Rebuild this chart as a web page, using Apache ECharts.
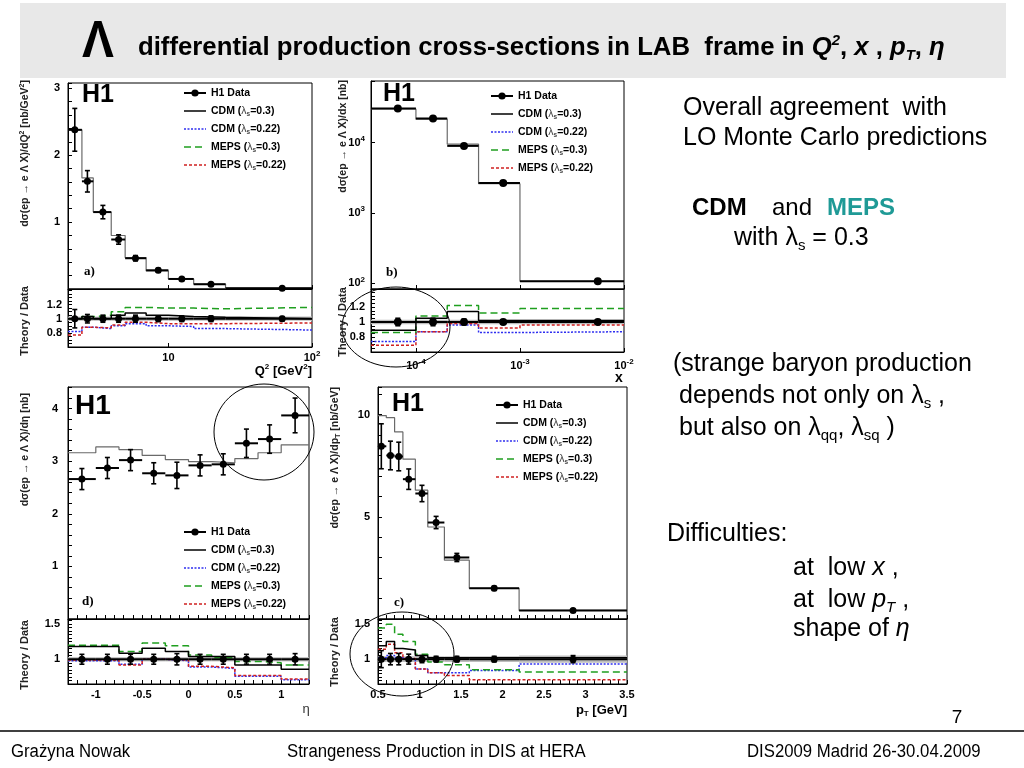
<!DOCTYPE html>
<html><head><meta charset="utf-8">
<script src="https://cdn.jsdelivr.net/npm/echarts@6/dist/echarts.min.js"></script>
<style>html,body{margin:0;padding:0;background:#fff}#c{width:1024px;height:768px}</style>
</head><body><div id="c"></div><script>
const FONT = '"Liberation Sans", Arial, Helvetica, sans-serif';
const SERIF = '"Liberation Serif", "Times New Roman", serif';

// ---------- Panel a: Q^2 ----------
const q2Edges = [2, 2.5, 3, 4, 5, 7, 10, 15, 25, 100];
const q2Centers = [2.23, 2.73, 3.5, 4.5, 5.9, 8.5, 12.4, 19.8, 62];
const q2Data = [2.38, 1.61, 1.15, 0.74, 0.46, 0.28, 0.15, 0.07, 0.012];
const q2Err = [0.32, 0.16, 0.1, 0.07, 0.04, 0.03, 0.02, 0.012, 0.004];
const q2Cdm = [2.38, 1.66, 1.15, 0.80, 0.47, 0.27, 0.15, 0.075, 0.012];
const q2RCdm03 = [1.0, 1.03, 1.0, 1.05, 1.08, 1.05, 1.03, 1.02, 1.0];
const q2RCdm022 = [0.82, 0.88, 0.86, 0.9, 0.93, 0.9, 0.89, 0.86, 0.84];
const q2RMeps03 = [1.0, 1.03, 1.05, 1.1, 1.16, 1.15, 1.15, 1.14, 1.16];
const q2RMeps022 = [0.77, 0.88, 0.87, 0.91, 0.95, 0.93, 0.93, 0.93, 0.94];
const q2RErr = [0.13, 0.06, 0.05, 0.05, 0.05, 0.04, 0.04, 0.04, 0.03];
const q2Band = [0.03, 0.03, 0.03, 0.03, 0.03, 0.03, 0.03, 0.03, 0.03];

// ---------- Panel b: x ----------
const xEdges = [3.7e-5, 1e-4, 2e-4, 4e-4, 1e-3, 1e-2];
const xCenters = [6.7e-5, 1.46e-4, 2.9e-4, 6.9e-4, 5.6e-3];
const xData = [30600, 21900, 8970, 2660, 107];
const xErr = [1500, 1000, 400, 120, 6];
const xCdm = [30000, 21500, 9500, 2600, 107];
const xRCdm03 = [0.89, 1.05, 1.14, 1.02, 1.02];
const xRCdm022 = [0.74, 0.87, 0.96, 0.86, 0.87];
const xRMeps03 = [0.86, 1.08, 1.22, 1.12, 1.18];
const xRMeps022 = [0.69, 0.87, 0.98, 0.92, 0.96];
const xRErr = [0.05, 0.05, 0.04, 0.03, 0.03];
const xBand = [0.03, 0.03, 0.03, 0.03, 0.03];

// ---------- Panel d: eta ----------
const etaEdges = [-1.3, -1.0, -0.75, -0.5, -0.25, 0, 0.25, 0.5, 0.75, 1.0, 1.3];
const etaCenters = [-1.15, -0.875, -0.625, -0.375, -0.125, 0.125, 0.375, 0.625, 0.875, 1.15];
const etaData = [2.66, 2.87, 3.02, 2.77, 2.73, 2.92, 2.94, 3.34, 3.42, 3.87];
const etaErr = [0.2, 0.2, 0.2, 0.2, 0.25, 0.2, 0.2, 0.27, 0.27, 0.33];
const etaCdm = [3.16, 3.27, 3.22, 3.11, 3.03, 2.99, 2.97, 3.05, 3.16, 3.31];
const etaRCdm03 = [1.18, 1.18, 1.085, 1.155, 1.11, 1.04, 1.04, 0.92, 0.92, 0.86];
const etaRCdm022 = [0.98, 0.98, 0.93, 1.0, 0.98, 0.89, 0.87, 0.76, 0.76, 0.71];
const etaRMeps03 = [1.2, 1.2, 1.11, 1.23, 1.19, 1.06, 1.02, 0.97, 0.95, 0.92];
const etaRMeps022 = [0.99, 0.99, 0.92, 1.0, 0.99, 0.9, 0.88, 0.77, 0.77, 0.72];
const etaRErr = [0.07, 0.07, 0.07, 0.07, 0.08, 0.07, 0.07, 0.07, 0.07, 0.08];
const etaBand = [0.03, 0.03, 0.03, 0.03, 0.03, 0.03, 0.03, 0.03, 0.03, 0.03];

// ---------- Panel c: pT ----------
const ptEdges = [0.5, 0.6, 0.7, 0.8, 0.95, 1.1, 1.3, 1.6, 2.2, 3.5];
const ptCenters = [0.54, 0.65, 0.75, 0.87, 1.03, 1.2, 1.45, 1.9, 2.85];
const ptData = [8.45, 8.0, 7.95, 6.84, 6.14, 4.72, 3.01, 1.5, 0.42];
const ptErr = [1.1, 0.7, 0.7, 0.5, 0.4, 0.3, 0.2, 0.1, 0.05];
const ptCdm = [9.95, 9.85, 9.15, 7.82, 6.3, 4.5, 2.88, 1.5, 0.42];
const ptRCdm03 = [1.19, 1.25, 1.15, 1.13, 1.05, 1.02, 1.02, 1.02, 1.02];
const ptRCdm022 = [1.02, 1.05, 1.02, 1.0, 0.86, 0.81, 0.81, 0.84, 0.93];
const ptRMeps03 = [1.44, 1.49, 1.35, 1.25, 1.07, 0.96, 0.92, 0.85, 0.82];
const ptRMeps022 = [1.14, 1.21, 1.09, 1.01, 0.86, 0.81, 0.77, 0.71, 0.71];
const ptRErr = [0.12, 0.08, 0.08, 0.07, 0.05, 0.04, 0.04, 0.04, 0.05];
const ptBand = [0.04, 0.04, 0.04, 0.04, 0.04, 0.04, 0.04, 0.04, 0.05];

// ---------- tick labels ----------
const q2TickVals = [10, 100];
const q2TickTexts = ['10', '10{sup|2}'];
const q2YLabels = [1, 2, 3];
const ratioLabelsAB = [0.8, 1, 1.2];
const xTickVals = [1e-4, 1e-3, 1e-2];
const xTickTexts = ['10{sup|-4}', '10{sup|-3}', '10{sup|-2}'];
const xYVals = [100, 1000, 10000];
const xYTexts = ['10{sup|2}', '10{sup|3}', '10{sup|4}'];
const etaTickVals = [-1, -0.5, 0, 0.5, 1];
const etaYLabels = [1, 2, 3, 4];
const ratioLabelsCD = [1, 1.5];
const ptTickVals = [0.5, 1, 1.5, 2, 2.5, 3, 3.5];
const ptYLabels = [5, 10];

const N0 = 'H1 Data', N1 = 'CDM (λs=0.3)', N2 = 'CDM (λs=0.22)', N3 = 'MEPS (λs=0.3)', N4 = 'MEPS (λs=0.22)';
const BLUE = '#2f2ff0', GREEN = '#1f9f1f', RED = '#d02020';
const RATIO_REF = 1;

function pick(vals, texts) {
  return function (v) {
    for (let i = 0; i < vals.length; i++) {
      if (Math.abs(v - vals[i]) < 1e-9 + 1e-6 * Math.abs(vals[i])) return texts ? texts[i] : String(vals[i]);
    }
    return '';
  };
}
const supRich = { sup: { fontFamily: FONT, fontWeight: 'bold', fontSize: 8, color: '#000', verticalAlign: 'top', lineHeight: 8 } };

function axis(gridIndex, type, min, max, interval, vals, texts, showLabels, margin) {
  const ax = {
    gridIndex, type, min, max,
    splitLine: { show: false },
    axisLine: { show: true, onZero: false, lineStyle: { color: '#000', width: 1 } },
    axisTick: { show: true, inside: true, length: 4, lineStyle: { color: '#000', width: 1 } },
    axisLabel: {
      show: showLabels, margin: margin, formatter: pick(vals, texts),
      fontFamily: FONT, fontWeight: 'bold', fontSize: 11, color: '#000', lineHeight: 16, rich: supRich
    }
  };
  if (type === 'value') ax.interval = interval; else ax.logBase = 10;
  return ax;
}

const grids = [
  { left: 68, top: 83, width: 244, height: 206 },
  { left: 68, top: 289, width: 244, height: 58 },
  { left: 371, top: 81, width: 253, height: 208 },
  { left: 371, top: 289, width: 253, height: 63 },
  { left: 68, top: 387, width: 241, height: 232 },
  { left: 68, top: 619, width: 241, height: 65 },
  { left: 378, top: 387, width: 249, height: 232 },
  { left: 378, top: 619, width: 249, height: 65 }
].map(g => Object.assign({ show: true, borderColor: '#000', borderWidth: 1, backgroundColor: 'transparent' }, g));

const xAxes = [
  axis(0, 'log', 2, 100, null, q2TickVals, q2TickTexts, false, 4),
  axis(1, 'log', 2, 100, null, q2TickVals, q2TickTexts, true, 3),
  axis(2, 'log', 3.7e-5, 1e-2, null, xTickVals, xTickTexts, false, 4),
  axis(3, 'log', 3.7e-5, 1e-2, null, xTickVals, xTickTexts, true, 6),
  axis(4, 'value', -1.3, 1.3, 0.1, etaTickVals, null, false, 4),
  axis(5, 'value', -1.3, 1.3, 0.1, etaTickVals, null, true, 3),
  axis(6, 'value', 0.5, 3.5, 0.1, ptTickVals, null, false, 4),
  axis(7, 'value', 0.5, 3.5, 0.1, ptTickVals, null, true, 3)
];
const yAxes = [
  axis(0, 'value', 0, 3.08, 0.2, q2YLabels, null, true, 8),
  axis(1, 'value', 0.6, 1.42, 0.05, ratioLabelsAB, null, true, 6),
  axis(2, 'log', 83, 75000, null, xYVals, xYTexts, true, 6),
  axis(3, 'value', 0.6, 1.44, 0.05, ratioLabelsAB, null, true, 6),
  axis(4, 'value', 0, 4.41, 0.2, etaYLabels, null, true, 10),
  axis(5, 'value', 0.65, 1.57, 0.05, ratioLabelsCD, null, true, 8),
  axis(6, 'value', 0, 11.35, 1, ptYLabels, null, true, 8),
  axis(7, 'value', 0.65, 1.565, 0.05, ratioLabelsCD, null, true, 8)
];

function step(edges, vals) {
  const d = vals.map((v, i) => [edges[i], v]);
  d.push([edges[edges.length - 1], vals[vals.length - 1]]);
  return d;
}
function lineS(name, xi, yi, data, color, type, width, z) {
  return { type: 'line', name, xAxisIndex: xi, yAxisIndex: yi, data, step: 'end', symbol: 'none', showSymbol: false,
    lineStyle: { color, width, type }, itemStyle: { color }, silent: true, z: z || 3, clip: true };
}
function ptS(xi, yi, centers, vals, size) {
  return { type: 'line', name: N0, xAxisIndex: xi, yAxisIndex: yi, data: centers.map((c, i) => [c, vals[i]]),
    symbol: 'circle', symbolSize: size || 7, showSymbol: true, lineStyle: { opacity: 0, width: 0 },
    itemStyle: { color: '#000' }, silent: true, z: 6, clip: true };
}
function errRender(params, api) {
  const xlo = api.value(0), xhi = api.value(1), xc = api.value(2), y = api.value(3), e = api.value(4);
  const pL = api.coord([xlo, y]), pR = api.coord([xhi, y]);
  const pT = api.coord([xc, y + e]), pB = api.coord([xc, y - e]);
  const st = { stroke: '#000', lineWidth: 1.6 };
  return { type: 'group', children: [
    { type: 'line', shape: { x1: pL[0], y1: pL[1], x2: pR[0], y2: pR[1] }, style: { stroke: '#000', lineWidth: 2 } },
    { type: 'line', shape: { x1: pT[0], y1: pT[1], x2: pB[0], y2: pB[1] }, style: st },
    { type: 'line', shape: { x1: pT[0] - 2.5, y1: pT[1], x2: pT[0] + 2.5, y2: pT[1] }, style: st },
    { type: 'line', shape: { x1: pB[0] - 2.5, y1: pB[1], x2: pB[0] + 2.5, y2: pB[1] }, style: st }
  ] };
}
function errS(xi, yi, edges, centers, vals, errs) {
  return { type: 'custom', name: N0, xAxisIndex: xi, yAxisIndex: yi, renderItem: errRender, clip: true, silent: true, z: 5,
    encode: { x: 2, y: 3 }, data: centers.map((c, i) => [edges[i], edges[i + 1], c, vals[i], errs[i]]) };
}
function bandRender(params, api) {
  const p1 = api.coord([api.value(0), api.value(3)]), p2 = api.coord([api.value(1), api.value(2)]);
  return { type: 'rect', shape: { x: p1[0], y: p1[1], width: p2[0] - p1[0], height: p2[1] - p1[1] }, style: { fill: '#bdbdbd' } };
}
function bandS(xi, yi, edges, band) {
  return { type: 'custom', xAxisIndex: xi, yAxisIndex: yi, renderItem: bandRender, clip: true, silent: true, z: 2,
    encode: { x: 0, y: 2 }, data: band.map((b, i) => [edges[i], edges[i + 1], RATIO_REF - b, RATIO_REF + b]) };
}
function panel(xm, ym, xr, yr, edges, centers, data, err, mc, rc03, rc022, rm03, rm022, rerr, band, ps) {
  const ones = centers.map(() => RATIO_REF);
  return [
    ptS(xm, ym, centers, data, ps),
    lineS(N1, xm, ym, step(edges, mc), '#6a6a6a', 'solid', 1.2, 3),
    errS(xm, ym, edges, centers, data, err),
    bandS(xr, yr, edges, band),
    lineS(N2, xr, yr, step(edges, rc022), BLUE, [2, 1.5], 1.5, 3),
    lineS(N4, xr, yr, step(edges, rm022), RED, [3, 2], 1.5, 3),
    lineS(N3, xr, yr, step(edges, rm03), GREEN, [7, 4], 1.5, 3),
    lineS(N1, xr, yr, step(edges, rc03), '#000', 'solid', 1.5, 4),
    errS(xr, yr, edges, centers, ones, rerr),
    ptS(xr, yr, centers, ones, ps)
  ];
}
const series = [].concat(
  panel(0, 0, 1, 1, q2Edges, q2Centers, q2Data, q2Err, q2Cdm, q2RCdm03, q2RCdm022, q2RMeps03, q2RMeps022, q2RErr, q2Band, 7),
  panel(2, 2, 3, 3, xEdges, xCenters, xData, xErr, xCdm, xRCdm03, xRCdm022, xRMeps03, xRMeps022, xRErr, xBand, 8),
  panel(4, 4, 5, 5, etaEdges, etaCenters, etaData, etaErr, etaCdm, etaRCdm03, etaRCdm022, etaRMeps03, etaRMeps022, etaRErr, etaBand, 7),
  panel(6, 6, 7, 7, ptEdges, ptCenters, ptData, ptErr, ptCdm, ptRCdm03, ptRCdm022, ptRMeps03, ptRMeps022, ptRErr, ptBand, 7)
);

const hideSym = { opacity: 0, color: 'rgba(0,0,0,0)', borderWidth: 0 };
const legendData = [
  { name: N0, lineStyle: { opacity: 1, color: '#000', width: 2 }, itemStyle: { color: '#000' } },
  { name: N1, lineStyle: { color: '#000', width: 1.5, type: 'solid' }, itemStyle: hideSym },
  { name: N2, lineStyle: { color: BLUE, width: 1.5, type: [2, 1.5] }, itemStyle: hideSym },
  { name: N3, lineStyle: { color: GREEN, width: 1.5, type: [7, 4] }, itemStyle: hideSym },
  { name: N4, lineStyle: { color: RED, width: 1.5, type: [3, 2] }, itemStyle: hideSym }
];
function legend(left, top) {
  return {
    left, top, orient: 'vertical', itemWidth: 22, itemHeight: 9, itemGap: 5, padding: 0, selectedMode: false,
    data: legendData,
    formatter: n => n.replace('λs', '{l|λ}{s|s}'),
    textStyle: {
      fontFamily: FONT, fontWeight: 'bold', fontSize: 10.5, color: '#000', lineHeight: 13,
      rich: {
        l: { fontFamily: FONT, fontWeight: 'normal', fontSize: 10.5, color: '#444', lineHeight: 13 },
        s: { fontFamily: FONT, fontWeight: 'bold', fontSize: 6.5, color: '#444', verticalAlign: 'bottom', lineHeight: 9 }
      }
    }
  };
}

function rs(size, weight, style, va, lh, fill) {
  return { fontSize: size, fontWeight: weight || 'normal', fontStyle: style || 'normal', fontFamily: FONT,
    fill: fill || '#000', verticalAlign: va || 'middle', lineHeight: lh };
}
function T(x, y, text, o) {
  o = o || {};
  const align = o.align || 'left';
  return { type: 'text', x, y, rotation: o.rot || 0, scaleX: o.sx || 1, silent: true, z: 100,
    style: { text, font: o.font, fill: o.fill || '#000', align, textAlign: align, verticalAlign: 'middle',
      textVerticalAlign: 'middle', lineHeight: o.lh, rich: o.rich } };
}
const smallRich = {
  sup: rs(7, 'bold', 'normal', 'top', 7, '#222'),
  sub: rs(7, 'bold', 'normal', 'bottom', 7, '#222')
};
const bigRich = {
  s: rs(15, 'normal', 'normal', 'bottom', 15),
  i: rs(25, 'normal', 'italic', 'middle', 30),
  sub: rs(15, 'normal', 'italic', 'bottom', 15)
};
const titleRich = {
  i: rs(26, 'bold', 'italic', 'middle', 30),
  sup: rs(15, 'bold', 'italic', 'top', 15),
  sub: rs(15, 'bold', 'italic', 'bottom', 15)
};
const F25 = '25px ' + FONT;
const graphics = [
  { type: 'rect', shape: { x: 20, y: 3, width: 986, height: 75 }, style: { fill: '#e8e8e8' }, silent: true, z: -10 },
  T(82, 43, 'Λ', { font: 'bold 52px ' + FONT, sx: 0.92 }),
  T(138, 48, 'differential production cross-sections in LAB  frame in {i|Q}{sup|2}, {i|x} , {i|p}{sub|T}, {i|η}',
    { font: 'bold 26px ' + FONT, sx: 0.99, rich: titleRich, lh: 30 }),
  // right text
  T(683, 108, 'Overall agreement  with', { font: F25 }),
  T(683, 138, 'LO Monte Carlo predictions', { font: F25 }),
  T(692, 208, 'CDM', { font: 'bold 24px ' + FONT }),
  T(772, 208, 'and', { font: '24px ' + FONT }),
  T(827, 208, 'MEPS', { font: 'bold 24px ' + FONT, fill: '#1f9a96' }),
  T(734, 238, 'with λ{s|s} = 0.3', { font: F25, rich: bigRich, lh: 30 }),
  T(673, 364, '(strange baryon production', { font: F25 }),
  T(679, 396, 'depends not only on λ{s|s} ,', { font: F25, rich: bigRich, lh: 30 }),
  T(679, 428, 'but also on λ{s|qq}, λ{s|sq} )', { font: F25, rich: bigRich, lh: 30 }),
  T(667, 534, 'Difficulties:', { font: F25 }),
  T(793, 568, 'at  low {i|x} ,', { font: F25, rich: bigRich, lh: 30 }),
  T(793, 600, 'at  low {i|p}{sub|T} ,', { font: F25, rich: bigRich, lh: 30 }),
  T(793, 629, 'shape of {i|η}', { font: F25, rich: bigRich, lh: 30 }),
  // footer
  { type: 'line', shape: { x1: 0, y1: 731, x2: 1024, y2: 731 }, style: { stroke: '#000', lineWidth: 1.5 }, silent: true },
  T(957, 718, '7', { font: '19px ' + FONT, align: 'center' }),
  T(11, 752, 'Grażyna Nowak', { font: '18px ' + FONT, sx: 0.93 }),
  T(287, 752, 'Strangeness Production in DIS at HERA', { font: '18px ' + FONT, sx: 0.93 }),
  T(747, 752, 'DIS2009 Madrid 26-30.04.2009', { font: '18px ' + FONT, sx: 0.93 }),
  // H1 labels
  T(82, 95, 'H1', { font: 'bold 25px ' + FONT }),
  T(383, 94, 'H1', { font: 'bold 25px ' + FONT }),
  T(75, 406, 'H1', { font: 'bold 28px ' + FONT }),
  T(392, 404, 'H1', { font: 'bold 25px ' + FONT }),
  T(84, 272, 'a)', { font: 'bold 13px ' + SERIF }),
  T(386, 273, 'b)', { font: 'bold 13px ' + SERIF }),
  T(82, 602, 'd)', { font: 'bold 13px ' + SERIF }),
  T(394, 603, 'c)', { font: 'bold 13px ' + SERIF }),
  // y titles
  T(25, 80, 'dσ(ep → e Λ X)/dQ{sup|2} [nb/GeV{sup|2}]', { font: 'bold 10.5px ' + FONT, fill: '#222', rot: Math.PI / 2, align: 'right', rich: smallRich, lh: 13 }),
  T(25, 321, 'Theory / Data', { font: 'bold 11px ' + FONT, fill: '#222', rot: Math.PI / 2, align: 'center' }),
  T(343, 80, 'dσ(ep → e Λ X)/dx [nb]', { font: 'bold 10.5px ' + FONT, fill: '#222', rot: Math.PI / 2, align: 'right' }),
  T(343, 322, 'Theory / Data', { font: 'bold 11px ' + FONT, fill: '#222', rot: Math.PI / 2, align: 'center' }),
  T(25, 393, 'dσ(ep → e Λ X)/dη [nb]', { font: 'bold 10.5px ' + FONT, fill: '#222', rot: Math.PI / 2, align: 'right' }),
  T(25, 655, 'Theory / Data', { font: 'bold 11px ' + FONT, fill: '#222', rot: Math.PI / 2, align: 'center' }),
  T(335, 387, 'dσ(ep → e Λ X)/dp{sub|T} [nb/GeV]', { font: 'bold 10.5px ' + FONT, fill: '#222', rot: Math.PI / 2, align: 'right', rich: smallRich, lh: 13 }),
  T(335, 652, 'Theory / Data', { font: 'bold 11px ' + FONT, fill: '#222', rot: Math.PI / 2, align: 'center' }),
  // x titles
  T(312, 371, 'Q{sup|2} [GeV{sup|2}]', { font: 'bold 13px ' + FONT, align: 'right', lh: 16,
    rich: { sup: rs(8, 'bold', 'normal', 'top', 8) } }),
  T(619, 378, 'x', { font: 'bold 14px ' + FONT, align: 'center' }),
  T(306, 709, 'η', { font: '13px ' + FONT, align: 'center', fill: '#333' }),
  T(627, 710, 'p{sub|T} [GeV]', { font: 'bold 13px ' + FONT, align: 'right', lh: 16,
    rich: { sub: rs(8, 'bold', 'normal', 'bottom', 8) } }),
  // circles
  { type: 'ellipse', shape: { cx: 396, cy: 327, rx: 54, ry: 40 }, style: { fill: 'none', stroke: '#000', lineWidth: 1 }, silent: true, z: 50 },
  { type: 'ellipse', shape: { cx: 264, cy: 432, rx: 50, ry: 48 }, style: { fill: 'none', stroke: '#000', lineWidth: 1 }, silent: true, z: 50 },
  { type: 'ellipse', shape: { cx: 402, cy: 654, rx: 52, ry: 42 }, style: { fill: 'none', stroke: '#000', lineWidth: 1 }, silent: true, z: 50 }
];

const chart = echarts.init(document.getElementById('c'), null, { renderer: 'canvas' });
chart.setOption({
  animation: false,
  backgroundColor: '#fff',
  grid: grids,
  xAxis: xAxes,
  yAxis: yAxes,
  legend: [legend(183, 86.5), legend(490, 89.5), legend(183, 525.5), legend(495, 398.5)],
  series,
  graphic: { elements: graphics }
});
</script></body></html>
